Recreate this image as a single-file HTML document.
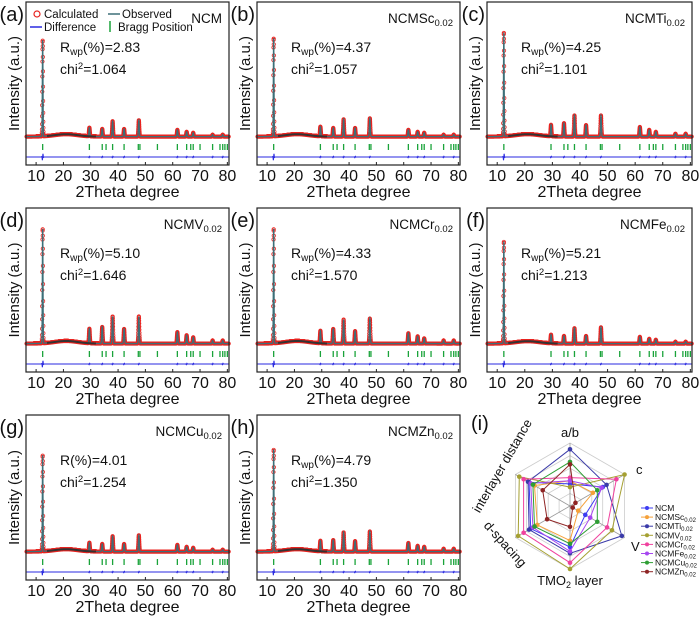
<!DOCTYPE html>
<html><head><meta charset="utf-8"><style>
html,body{margin:0;padding:0;background:#fff;}
svg{display:block;font-family:"Liberation Sans",Arial,sans-serif;}
</style></head><body>
<svg id="fig" width="700" height="618" viewBox="0 0 700 618" xmlns="http://www.w3.org/2000/svg"></svg>
<script>
// ---- XRD data ----
const peakPos = [12.4, 29.5, 34.2, 38.0, 42.2, 47.6, 61.7, 65.1, 67.5, 74.6, 78.3];
const heightsA = [1.00, 0.09, 0.08, 0.16, 0.08, 0.17, 0.07, 0.05, 0.04, 0.02, 0.02];
const heightsB = [1.02, 0.10, 0.09, 0.18, 0.09, 0.19, 0.07, 0.05, 0.04, 0.02, 0.02];
const heightsC = [1.08, 0.12, 0.14, 0.22, 0.12, 0.22, 0.10, 0.07, 0.05, 0.03, 0.03];
const heightsD = [1.10, 0.14, 0.16, 0.26, 0.14, 0.26, 0.11, 0.08, 0.06, 0.03, 0.03];
const heightsE = [1.10, 0.12, 0.14, 0.23, 0.12, 0.24, 0.10, 0.07, 0.05, 0.03, 0.03];
const heightsF = [1.06, 0.09, 0.08, 0.16, 0.08, 0.17, 0.07, 0.05, 0.04, 0.02, 0.02];
const heightsG = [1.00, 0.09, 0.08, 0.16, 0.08, 0.17, 0.07, 0.05, 0.04, 0.02, 0.02];
const heightsH = [1.06, 0.11, 0.12, 0.20, 0.11, 0.21, 0.09, 0.06, 0.05, 0.03, 0.03];
const braggPos = [12.4, 29.5, 34.2, 35.6, 38.0, 42.2, 47.4, 48.0, 54.4, 61.7, 65.1, 66.6, 67.5, 70.0, 74.6, 77.3, 78.3, 79.1, 80.0];
const xTicks = [10, 20, 30, 40, 50, 60, 70, 80];
const panelLetters = ["(a)","(b)","(c)","(d)","(e)","(f)","(g)","(h)"];
const sampleBase = ["NCM","NCMSc","NCMTi","NCMV","NCMCr","NCMFe","NCMCu","NCMZn"];
const rLabels = ["wp","wp","wp","wp","wp","wp","","wp"];
const rValues = ["2.83","4.37","4.25","5.10","4.33","5.21","4.01","4.79"];
const chiValues = ["1.064","1.057","1.101","1.646","1.570","1.213","1.254","1.350"];

// ---- Radar data ----
const radarAxes = ["a/b","c","V","TMO2 layer","d-spacing","interlayer distance"];
const radarSeries = ["NCM","NCMSc","NCMTi","NCMV","NCMCr","NCMFe","NCMCu","NCMZn"];
const valNCM = [0.35, 0.60, 0.28, 0.65, 0.72, 0.75];
const valSc  = [0.40, 0.42, 0.15, 0.55, 0.60, 0.65];
const valTi  = [0.90, 0.67, 0.95, 0.75, 0.75, 0.77];
const valV   = [0.30, 1.00, 0.77, 1.00, 0.95, 0.93];
const valCr  = [0.45, 0.85, 0.68, 0.90, 0.85, 0.85];
const valFe  = [0.40, 0.58, 0.37, 0.72, 0.68, 0.72];
const valCu  = [0.70, 0.50, 0.50, 0.60, 0.65, 0.68];
const valZn  = [0.66, 0.10, 0.05, 0.33, 0.42, 0.50];

const NS = "http://www.w3.org/2000/svg";
const svg = document.getElementById('fig');
function mk(tag, attrs, parent){ const e=document.createElementNS(NS,tag); for(const k in attrs) e.setAttribute(k,attrs[k]); (parent||svg).appendChild(e); return e; }

const allHeights=[heightsA,heightsB,heightsC,heightsD,heightsE,heightsF,heightsG,heightsH];
const colX=[[26,229],[257,460],[487,692]];
const rowY=[[2,165],[208,372],[415,580]];

function bg(d){ return 0.025*Math.exp(-Math.pow((d-21)/6,2)) + 0.004; }
function pattern(d, hs){
  let y = bg(d);
  for(let i=0;i<peakPos.length;i++){
    const w = i===0?0.16:0.22;
    y += hs[i]*Math.exp(-Math.pow((d-peakPos[i])/w,2));
  }
  return y;
}

for(let p=0;p<8;p++){
  const c=p%3, r=Math.floor(p/3);
  const fx=colX[c][0], fr=colX[c][1], fy=rowY[r][0], fb=rowY[r][1];
  const fw=fr-fx, fh=fb-fy;
  const g=mk('g',{});  
  const xs=d=>fx+(d-6.3)/(80.6-6.3)*fw;
  const base=fb-28, amp=(p===3||p===4)?104:96;
  const ys=v=>base-v*amp;
  const hs=allHeights[p];
  let dl='';
  for(let d=6.5; d<=80.5; d+=0.02){ dl+=(dl?'L':'M')+xs(d).toFixed(2)+' '+ys(pattern(d,hs)).toFixed(2); }
  let dc='';
  const rr=1.7;
  for(let d=6.5; d<=80.5; d+=0.03){
    const X=xs(d), Y=ys(pattern(d,hs));
    dc+='M'+(X-rr).toFixed(2)+' '+Y.toFixed(2)+'a'+rr+' '+rr+' 0 1 0 '+(2*rr)+' 0a'+rr+' '+rr+' 0 1 0 '+(-2*rr)+' 0';
  }
  const calc=mk('path',{d:dc,fill:'none',stroke:'#e8231f','stroke-width':0.8},g);
   
  const obs=mk('path',{d:dl,fill:'none',stroke:'#3d6f78','stroke-width':1.3},g);
   
  let db='';
  for(let d=14; d<=32; d+=0.1){ db+=(db?'L':'M')+xs(d).toFixed(2)+' '+ys(bg(d)).toFixed(2); }
  const bl=mk('path',{d:db,fill:'none',stroke:'#333','stroke-width':2},g);
   
  braggPos.forEach(b=>{
    const t=mk('line',{x1:xs(b),x2:xs(b),y1:fb-21,y2:fb-15,stroke:'#1aa33a','stroke-width':1.3},g);
     
  });
  let dd='';
  for(let d=6.5; d<=80.5; d+=0.05){
    let v=0; for(let i=0;i<peakPos.length;i++){ v+= (i===0?0.05:0.012)*Math.sin((d-peakPos[i])*12)*Math.exp(-Math.pow((d-peakPos[i])/0.25,2)); }
    dd+=(dd?'L':'M')+xs(d).toFixed(2)+' '+(fb-8-v*80).toFixed(2);
  }
  const df=mk('path',{d:dd,fill:'none',stroke:'#2a2ae0','stroke-width':1},g);
   
  const fr_=mk('rect',{x:fx,y:fy,width:fw,height:fh,fill:'none',stroke:'#222','stroke-width':1.2},g);
   
  xTicks.forEach(t=>{
    const tl=mk('line',{x1:xs(t),x2:xs(t),y1:fb,y2:fb-3,stroke:'#222','stroke-width':1},g);
     
    const tt=mk('text',{x:xs(t),y:fb+16,'font-size':16,'text-anchor':'middle',fill:'#111'},g);
    tt.textContent=t;
     
  });
  const xl=mk('text',{x:fx+fw/2,y:fb+32,'font-size':16,'text-anchor':'middle',fill:'#111'},g);
  xl.textContent='2Theta degree';
   
  const yl=mk('text',{x:0,y:0,'font-size':15,'text-anchor':'middle',fill:'#111',transform:'translate('+(fx-7)+','+(fy+fh/2)+') rotate(-90)'},g);
  yl.textContent='Intensity (a.u.)';
   
  const pl=mk('text',{x:fx-2,y:fy+19,'font-size':20,'text-anchor':'end',fill:'#111'},g);
  pl.textContent=panelLetters[p];
   
  const nm=mk('text',{x:fr-7,y:fy+21,'font-size':13.5,'text-anchor':'end',fill:'#111'},g);
   
  if(p===0){ nm.textContent='NCM'; }
  else { nm.appendChild(document.createTextNode(sampleBase[p])); const s=mk('tspan',{'font-size':9.5,dy:3},nm); s.textContent='0.02'; }
  const ax=fx+34;
  const rt=mk('text',{x:ax,y:fy+50,'font-size':14,fill:'#111'},g);
   
  rt.appendChild(document.createTextNode('R'));
  if(rLabels[p]){ const s=mk('tspan',{'font-size':10,dy:3},rt); s.textContent=rLabels[p]; const s2=mk('tspan',{dy:-3},rt); s2.textContent='(%)='+rValues[p]; }
  else { const s2=mk('tspan',{},rt); s2.textContent='(%)='+rValues[p]; }
  const ct=mk('text',{x:ax,y:fy+72,'font-size':14,fill:'#111'},g);
   
  ct.appendChild(document.createTextNode('chi'));
  const cs=mk('tspan',{'font-size':9.5,dy:-5},ct); cs.textContent='2';
  const cs2=mk('tspan',{dy:5},ct); cs2.textContent='='+chiValues[p];
  if(p===0){
    const lg=mk('g',{},g);  
    mk('circle',{cx:fx+11,cy:fy+12,r:3,fill:'none',stroke:'#e8231f','stroke-width':1.2},lg);
    const t1=mk('text',{x:fx+18,y:fy+16,'font-size':11.5,fill:'#111'},lg); t1.textContent='Calculated';
    mk('line',{x1:fx+82,x2:fx+94,y1:fy+12,y2:fy+12,stroke:'#3d6f78','stroke-width':1.5},lg);
    const t2=mk('text',{x:fx+96,y:fy+16,'font-size':11.5,fill:'#111'},lg); t2.textContent='Observed';
    mk('line',{x1:fx+4,x2:fx+16,y1:fy+25,y2:fy+25,stroke:'#2a2ae0','stroke-width':1.5},lg);
    const t3=mk('text',{x:fx+18,y:fy+29,'font-size':11.5,fill:'#111'},lg); t3.textContent='Difference';
    mk('line',{x1:fx+84,x2:fx+84,y1:fy+19,y2:fy+30,stroke:'#1aa33a','stroke-width':1.5},lg);
    const t4=mk('text',{x:fx+92,y:fy+29,'font-size':11.5,fill:'#111'},lg); t4.textContent='Bragg Position';
  }
}

// ---- Radar ----
const rg=mk('g',{});  
const cx=570, cy=506, R=63;
const ang=i=>(-90+60*i)*Math.PI/180;
const pt=(i,v)=>[cx+R*v*Math.cos(ang(i)), cy+R*v*Math.sin(ang(i))];
for(let k=1;k<=5;k++){
  const pts=[0,1,2,3,4,5].map(i=>pt(i,k/5).map(n=>n.toFixed(1)).join(',')).join(' ');
  const ring=mk('polygon',{points:pts,fill:'none',stroke:'#cccccc','stroke-width':0.8},rg);
   
}
for(let i=0;i<6;i++){
  const e=pt(i,1);
  const sp=mk('line',{x1:cx,y1:cy,x2:e[0],y2:e[1],stroke:'#999','stroke-width':0.8},rg);
   
}
const seriesVals=[valNCM,valSc,valTi,valV,valCr,valFe,valCu,valZn];
const seriesCol=['#3d3df2','#f5a13a','#3a3aa8','#a5a032','#f0419e','#a646f0','#2f9e35','#8e2424'];
seriesVals.forEach((vals,s)=>{
  const pts=vals.map((v,i)=>pt(i,v));
  const pg=mk('polygon',{points:pts.map(q=>q[0].toFixed(1)+','+q[1].toFixed(1)).join(' '),fill:'none',stroke:seriesCol[s],'stroke-width':1},rg);
   
  pts.forEach(q=>{
    const d=mk('circle',{cx:q[0],cy:q[1],r:2.3,fill:seriesCol[s]},rg);
     
  });
});
function lab(txt,x,y,anchor,rot,name,sub){
  const t=mk('text',{x:0,y:0,'font-size':13,'text-anchor':anchor,fill:'#111',transform:'translate('+x+','+y+') rotate('+rot+')'},rg);
   
  if(sub){ t.appendChild(document.createTextNode('TMO')); const s=mk('tspan',{'font-size':9,dy:3},t); s.textContent='2'; const s2=mk('tspan',{dy:-3},t); s2.textContent=' layer'; }
  else t.textContent=txt;
  return t;
}
lab('a/b',570,437,'middle',0,'radar-axis-label');
lab('c',636,474,'start',0,'radar-axis-label');
lab('V',631,551,'start',0,'radar-axis-label');
lab('',570,585,'middle',0,'radar-axis-label',true);
lab('d-spacing',502,547,'middle',48,'radar-axis-label');
lab('interlayer distance',506,468,'middle',-60,'radar-axis-label');
const il=mk('text',{x:471,y:430,'font-size':20,fill:'#111'},rg); il.textContent='(i)';
 
radarSeries.forEach((n,s)=>{
  const y=508+s*9.1;
  const lg=mk('g',{},rg);  
  mk('line',{x1:641,x2:653,y1:y,y2:y,stroke:seriesCol[s],'stroke-width':1},lg);
  mk('circle',{cx:647,cy:y,r:2,fill:seriesCol[s]},lg);
  const t=mk('text',{x:655,y:y+3,'font-size':8.5,fill:'#111'},lg);
  t.appendChild(document.createTextNode(n));
  if(s>0){ const sb=mk('tspan',{'font-size':6,dy:2},t); sb.textContent='0.02'; }
});
</script>
</body></html>
